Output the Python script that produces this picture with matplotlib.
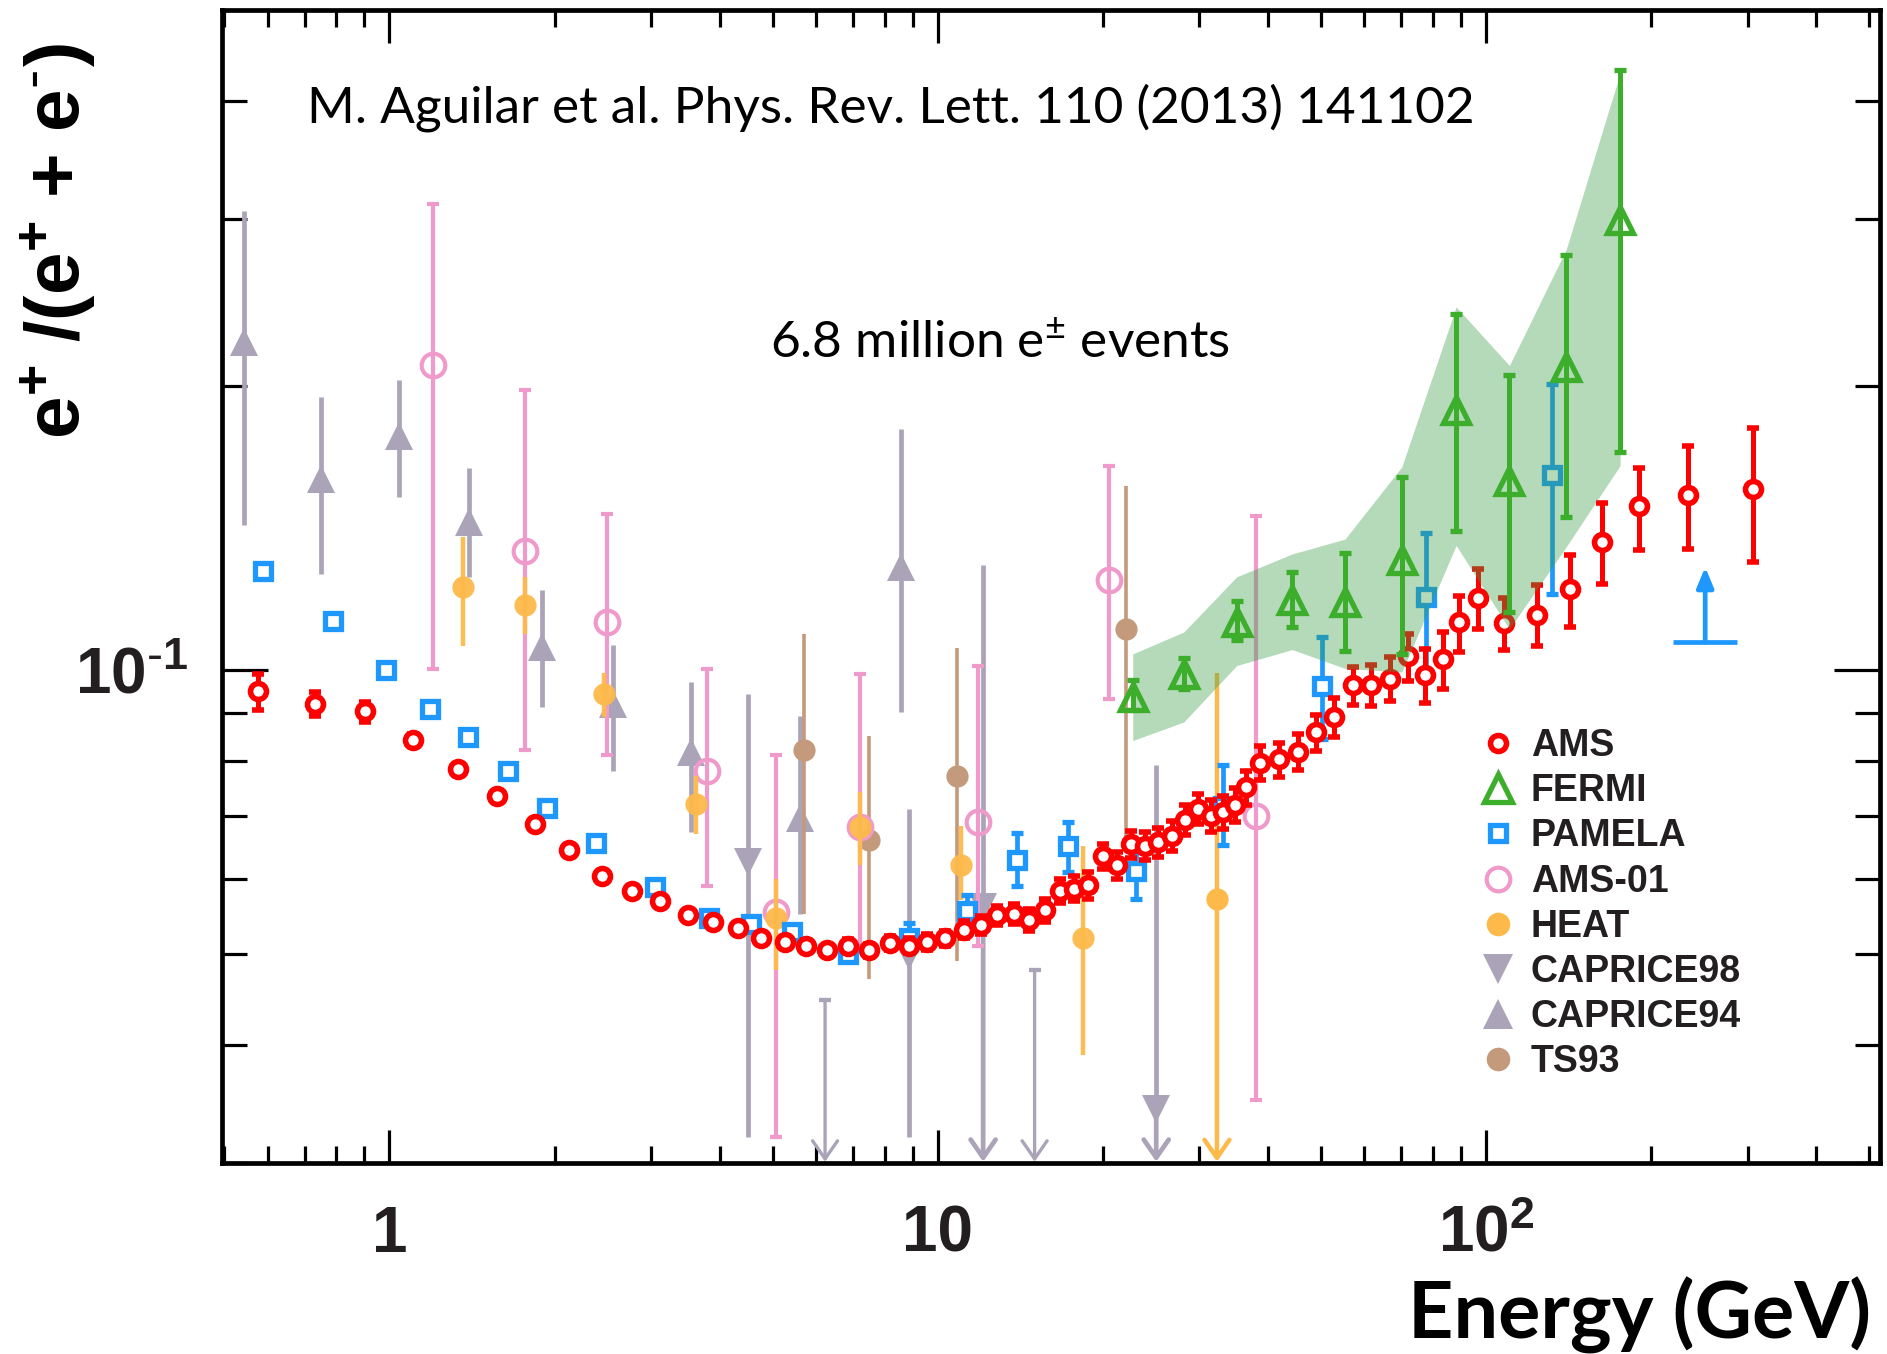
import numpy as np
import matplotlib
matplotlib.use('Agg')
import matplotlib.pyplot as plt
from matplotlib.lines import Line2D
from matplotlib.ticker import FixedLocator, FixedFormatter, NullFormatter

plt.rcParams['mathtext.default'] = 'regular'

# ---------------- data ----------------
ams_E = [0.576, 0.731, 0.904, 1.104, 1.332, 1.572, 1.84, 2.129, 2.441, 2.767, 3.114, 3.499, 3.893,
         4.32, 4.77, 5.27, 5.75, 6.28, 6.87, 7.48, 8.17, 8.85, 9.57, 10.31, 11.15, 11.99, 12.84,
         13.76, 14.68, 15.7, 16.69, 17.72, 18.8, 20.0, 21.2, 22.47, 23.85, 25.22, 26.7, 28.23,
         29.77, 31.45, 33.16, 34.8, 36.5, 38.74, 41.87, 45.4, 49.0, 52.8, 57.3, 61.7, 66.7, 72.1,
         77.3, 83.3, 89.4, 96.6, 107.8, 124.0, 142.3, 162.8, 190.4, 233.9, 306.6]
ams_v = [0.0948, 0.0920, 0.0903, 0.0843, 0.0785, 0.0735, 0.0686, 0.0644, 0.0605, 0.0583, 0.0568,
         0.0549, 0.0540, 0.0532, 0.0519, 0.0514, 0.0510, 0.0504, 0.0510, 0.0504, 0.0513, 0.0510,
         0.0515, 0.0519, 0.0530, 0.0536, 0.0549, 0.0551, 0.0543, 0.0556, 0.0583, 0.0586, 0.0591,
         0.0634, 0.0620, 0.0653, 0.0650, 0.0656, 0.0667, 0.0693, 0.0712, 0.0700, 0.0706, 0.0719,
         0.0750, 0.0796, 0.0803, 0.0818, 0.0858, 0.0890, 0.0962, 0.0963, 0.0978, 0.1033, 0.0987,
         0.1026, 0.1124, 0.1190, 0.1121, 0.1143, 0.1218, 0.1365, 0.1490, 0.1532, 0.1554]
ams_err_lo = [0.0041, 0.0026, 0.0022, 0.0012, 0.0010, 0.0009, 0.0008, 0.0008, 0.0007, 0.0007, 0.0007,
              0.0007, 0.0007, 0.0007, 0.0007, 0.0007, 0.0007, 0.0007, 0.0008, 0.0008, 0.0009, 0.0009,
              0.0010, 0.0010, 0.0011, 0.0012, 0.0013, 0.0014, 0.0015, 0.0016, 0.0017, 0.0018, 0.0019,
              0.0020, 0.0020, 0.0021, 0.0022, 0.0023, 0.0024, 0.0025, 0.0026, 0.0027, 0.0028, 0.0030,
              0.0031, 0.0033, 0.0034, 0.0036, 0.0038, 0.0042, 0.0045, 0.0048, 0.0052, 0.0060, 0.0065,
              0.0072, 0.0079, 0.0086, 0.0071, 0.0083, 0.0109, 0.0132, 0.0150, 0.0190, 0.0254]
ams_err_hi = [0.0042, 0.0026, 0.0022, 0.0012, 0.0010, 0.0009, 0.0008, 0.0008, 0.0007, 0.0007, 0.0007,
              0.0007, 0.0007, 0.0007, 0.0007, 0.0007, 0.0007, 0.0007, 0.0008, 0.0008, 0.0009, 0.0009,
              0.0010, 0.0010, 0.0011, 0.0012, 0.0013, 0.0014, 0.0015, 0.0016, 0.0017, 0.0018, 0.0019,
              0.0020, 0.0020, 0.0021, 0.0022, 0.0023, 0.0024, 0.0025, 0.0026, 0.0027, 0.0028, 0.0030,
              0.0031, 0.0033, 0.0034, 0.0036, 0.0038, 0.0042, 0.0045, 0.0048, 0.0052, 0.0058, 0.0065,
              0.0071, 0.0074, 0.0087, 0.0069, 0.0087, 0.0105, 0.0137, 0.0145, 0.0194, 0.0248]

pam_E = [0.589, 0.788, 0.987, 1.186, 1.388, 1.644, 1.938, 2.383, 3.056, 3.83, 4.57, 5.43, 6.87,
         8.87, 11.3, 13.96, 17.29, 23.0, 33.2, 50.3, 77.8, 132.0]
pam_v = [0.1273, 0.1127, 0.0999, 0.0908, 0.0848, 0.0780, 0.0713, 0.0655, 0.0588, 0.0546, 0.0537,
         0.0527, 0.0499, 0.0520, 0.0555, 0.0629, 0.0650, 0.0611, 0.0716, 0.0960, 0.1193, 0.1606]
pam_err_lo = [0.0008, 0.0008, 0.0008, 0.0008, 0.0008, 0.0008, 0.0008, 0.0008, 0.0008, 0.0008, 0.0008,
              0.0008, 0.0008, 0.0019, 0.0022, 0.0039, 0.0040, 0.0040, 0.0065, 0.0116, 0.0199, 0.0403]
pam_err_hi = [0.0008, 0.0008, 0.0008, 0.0008, 0.0008, 0.0008, 0.0008, 0.0008, 0.0008, 0.0008, 0.0008,
              0.0008, 0.0008, 0.0019, 0.0022, 0.0042, 0.0040, 0.0036, 0.0076, 0.0122, 0.0202, 0.0399]
# PAMELA lower limit (high energy)
pam_lim_E = [251.0]
pam_lim_v = [0.1069]
pam_lim_xlo = [219.0]
pam_lim_xhi = [287.0]
pam_lim_arrow_top = [0.1284]

fermi_E = [22.68, 28.1, 35.1, 44.3, 55.3, 70.2, 88.2, 110.3, 140.1, 175.6]
fermi_v = [0.0935, 0.0990, 0.1123, 0.1184, 0.1180, 0.1305, 0.1882, 0.1586, 0.2093, 0.2993]
fermi_hi = [0.0975, 0.1028, 0.1183, 0.1268, 0.1330, 0.1600, 0.2384, 0.2050, 0.2753, 0.4317]
fermi_lo = [0.0905, 0.0954, 0.1076, 0.1110, 0.1047, 0.1040, 0.1401, 0.1151, 0.1450, 0.1701]
band_lo = [0.0841, 0.0880, 0.1010, 0.1050, 0.1003, 0.0994, 0.1354, 0.1104, 0.1350, 0.1645]
band_hi = [0.1039, 0.1096, 0.1254, 0.1326, 0.1375, 0.1640, 0.2423, 0.2100, 0.2790, 0.4285]

ams01_E = [1.201, 1.764, 2.496, 3.79, 5.06, 7.20, 11.85, 20.57, 38.1]
ams01_v = [0.2104, 0.1334, 0.1124, 0.0781, 0.0553, 0.0681, 0.0690, 0.1243, 0.0700]
ams01_hi = [0.3117, 0.1977, 0.1463, 0.1002, 0.0812, 0.0990, 0.1010, 0.1645, 0.1455]
ams01_lo = [0.1002, 0.0821, 0.0812, 0.0590, 0.0320, 0.0510, 0.0510, 0.0931, 0.0350]

heat_E = [1.362, 1.764, 2.46, 3.63, 5.07, 7.20, 11.03, 18.43]
heat_v = [0.1223, 0.1171, 0.0942, 0.0720, 0.0546, 0.0681, 0.0620, 0.0520]
heat_hi = [0.1381, 0.1253, 0.0992, 0.0772, 0.0600, 0.0741, 0.0683, 0.0650]
heat_lo = [0.1060, 0.1090, 0.0890, 0.0669, 0.0480, 0.0620, 0.0570, 0.0390]
heat_lim_E = [32.3]
heat_lim_v = [0.0571]
heat_lim_hi = [0.0992]

c94_E = [0.5418, 0.749, 1.04, 1.396, 1.895, 2.553, 3.553, 5.61, 8.575]
c94_v = [0.2224, 0.1593, 0.1770, 0.1433, 0.1056, 0.0920, 0.0817, 0.0697, 0.1284]
c94_hi = [0.3060, 0.1944, 0.2025, 0.1634, 0.1213, 0.1062, 0.0971, 0.0894, 0.1797]
c94_lo = [0.1424, 0.1263, 0.1523, 0.1253, 0.0912, 0.0781, 0.0672, 0.0551, 0.0901]

c98_E = [4.51, 8.87]
c98_v = [0.0625, 0.0497]
c98_hi = [0.0942, 0.0712]
c98_lo = [0.0320, 0.0320]
c98_lim_E = [12.1, 25.03]
c98_lim_v = [0.0560, 0.0342]
c98_lim_hi = [0.1290, 0.0792]
c98_ul_E = [6.23, 15.02]
c98_ul_top = [0.0446, 0.0480]

ts93_E = [5.70, 7.48, 10.82, 22.07]
ts93_v = [0.0821, 0.0659, 0.0772, 0.1105]
ts93_hi = [0.1091, 0.0851, 0.1054, 0.1564]
ts93_lo = [0.0551, 0.0470, 0.0491, 0.0660]

legend_labels = ['AMS', 'FERMI', 'PAMELA', 'AMS-01', 'HEAT', 'CAPRICE98', 'CAPRICE94', 'TS93']
x_ticks = [1, 10, 100]
x_ticklabels = ['1', '10', r'$10^{2}$']
y_ticks = [0.1]
y_ticklabels = [r'$10^{\text{-}1}$']

# ---------------- style ----------------
RED = '#FF0000'
GREEN = '#3DAE2B'
BAND = '#3A9E48'
BLUE = '#1E98FF'
PINK = '#F09ACB'
ORANGE = '#FDBA4B'
GRAY = '#ABA4B8'
BROWN = '#C49A7C'
TXT = '#231F20'

XMIN, XMAX = 0.495, 523
YMIN, YMAX = 0.03, 0.5

fig = plt.figure(figsize=(18.87, 13.54), dpi=100)
ax = fig.add_axes([222 / 1887, 1 - 1163 / 1354, (1880 - 222) / 1887, (1163 - 10) / 1354])
ax.set_xscale('log')
ax.set_yscale('log')
ax.set_xlim(XMIN, XMAX)
ax.set_ylim(YMIN, YMAX)


def yerr_from(v, lo, hi):
    v = np.asarray(v)
    return [v - np.asarray(lo), np.asarray(hi) - v]


def down_arrows(E, top, color, lw, z):
    for e, t in zip(E, top):
        ax.annotate('', xy=(e, YMIN * 1.003), xytext=(e, t),
                    arrowprops=dict(arrowstyle='->,head_width=0.45,head_length=0.65',
                                    mutation_scale=20, color=color, lw=lw,
                                    shrinkA=0, shrinkB=0),
                    zorder=z)

# older experiments
ax.errorbar(c94_E, c94_v, yerr=yerr_from(c94_v, c94_lo, c94_hi), fmt='^', ms=20,
            mfc=GRAY, mec=GRAY, mew=0, ecolor=GRAY, elinewidth=3.4, capsize=4.5,
            capthick=3.2, zorder=2)
ax.errorbar(c98_E, c98_v, yerr=yerr_from(c98_v, c98_lo, c98_hi), fmt='v', ms=20,
            mfc=GRAY, mec=GRAY, mew=0, ecolor=GRAY, elinewidth=3.4, capsize=4.5,
            capthick=3.2, zorder=2)
ax.errorbar(c98_lim_E, c98_lim_v, yerr=[np.zeros(len(c98_lim_E)),
                                        np.asarray(c98_lim_hi) - np.asarray(c98_lim_v)],
            fmt='v', ms=20, mfc=GRAY, mec=GRAY, mew=0, ecolor=GRAY, elinewidth=3.4,
            capsize=4.5, capthick=3.2, zorder=2)
down_arrows(c98_lim_E, c98_lim_v, GRAY, 3.4, 2)
ax.errorbar(c98_ul_E, c98_ul_top, yerr=[np.zeros(2), np.zeros(2)], fmt='none',
            ecolor=GRAY, elinewidth=2.4, capsize=4.5, capthick=3.0, zorder=2)
down_arrows(c98_ul_E, c98_ul_top, GRAY, 2.4, 2)

ax.errorbar(ts93_E, ts93_v, yerr=yerr_from(ts93_v, ts93_lo, ts93_hi), fmt='o', ms=16,
            mfc=BROWN, mec=BROWN, mew=0, ecolor=BROWN, elinewidth=2.6, capsize=4.5,
            capthick=2.6, zorder=2.2)
ax.errorbar(ams01_E, ams01_v, yerr=yerr_from(ams01_v, ams01_lo, ams01_hi), fmt='o', ms=17,
            mfc='none', mec=PINK, mew=3.0, ecolor=PINK, elinewidth=3.0, capsize=4.5,
            capthick=3.0, zorder=2.4)
ax.errorbar(heat_E, heat_v, yerr=yerr_from(heat_v, heat_lo, heat_hi), fmt='o', ms=16,
            mfc=ORANGE, mec=ORANGE, mew=0, ecolor=ORANGE, elinewidth=3.2, capsize=4.5,
            capthick=3.2, zorder=2.6, alpha=0.95)
ax.errorbar(heat_lim_E, heat_lim_v, yerr=[[0], np.asarray(heat_lim_hi) - np.asarray(heat_lim_v)],
            fmt='o', ms=16, mfc=ORANGE, mec=ORANGE, mew=0, ecolor=ORANGE, elinewidth=3.2,
            capsize=4.5, capthick=3.2, zorder=2.6)
down_arrows(heat_lim_E, heat_lim_v, ORANGE, 3.2, 2.6)

# PAMELA
ax.errorbar(pam_E, pam_v, yerr=[pam_err_lo, pam_err_hi], fmt='s', ms=11.5, mfc='white',
            mec=BLUE, mew=3.8, ecolor=BLUE, elinewidth=3.4, capsize=4.5, capthick=3.4,
            zorder=3)
ax.errorbar(pam_lim_E, pam_lim_v,
            xerr=[np.asarray(pam_lim_E) - np.asarray(pam_lim_xlo),
                  np.asarray(pam_lim_xhi) - np.asarray(pam_lim_E)],
            fmt='none', ecolor=BLUE, elinewidth=3.4, capsize=0, zorder=3)
for e, v0, t in zip(pam_lim_E, pam_lim_v, pam_lim_arrow_top):
    ax.annotate('', xy=(e, t), xytext=(e, v0),
                arrowprops=dict(arrowstyle='-|>,head_width=0.25,head_length=0.6',
                                mutation_scale=20, color=BLUE, lw=3.4,
                                shrinkA=0, shrinkB=0), zorder=3)

# AMS
ax.errorbar(ams_E, ams_v, yerr=[ams_err_lo, ams_err_hi], fmt='o', ms=11.5, mfc='white',
            mec=RED, mew=4.0, ecolor=RED, elinewidth=3.6, capsize=4.3, capthick=3.6,
            zorder=4)

# Fermi band on top (transparent) then Fermi points
ax.fill_between(fermi_E, band_lo, band_hi, color=BAND, alpha=0.38, lw=0, zorder=5)
ax.errorbar(fermi_E, fermi_v, yerr=yerr_from(fermi_v, fermi_lo, fermi_hi), fmt='^', ms=19,
            mfc='none', mec=GREEN, mew=3.8, ecolor=GREEN, elinewidth=3.6, capsize=4.5,
            capthick=3.6, zorder=6)

# ---------------- axes styling ----------------
for s in ax.spines.values():
    s.set_linewidth(3.4)
    s.set_color('black')
ax.tick_params(which='both', direction='in', top=True, right=True, width=2.3, color='black')
ax.tick_params(axis='x', which='major', length=24, pad=64)
ax.tick_params(axis='x', which='minor', length=12)
ax.tick_params(axis='y', which='major', length=33, pad=24)
ax.tick_params(axis='y', which='minor', length=18)

ax.xaxis.set_major_locator(FixedLocator(x_ticks))
ax.xaxis.set_major_formatter(FixedFormatter(x_ticklabels))
xminor = [m * 10.0 ** k for k in (-1, 0, 1, 2) for m in range(2, 10)]
ax.xaxis.set_minor_locator(FixedLocator(xminor))
ax.xaxis.set_minor_formatter(NullFormatter())
ax.yaxis.set_major_locator(FixedLocator(y_ticks))
ax.yaxis.set_major_formatter(FixedFormatter(y_ticklabels))
yminor = [0.03, 0.04, 0.05, 0.06, 0.07, 0.08, 0.09, 0.2, 0.3, 0.4]
ax.yaxis.set_minor_locator(FixedLocator(yminor))
ax.yaxis.set_minor_formatter(NullFormatter())

for lab in ax.get_xticklabels():
    lab.set_fontfamily('Liberation Sans')
    lab.set_fontweight('bold')
    lab.set_fontsize(46)
    lab.set_color(TXT)
    lab.set_va('baseline')
for lab in ax.get_yticklabels():
    lab.set_fontfamily('Liberation Sans')
    lab.set_fontweight('bold')
    lab.set_fontsize(46)
    lab.set_color(TXT)

ax.set_ylabel(r'e$^{+}$ /(e$^{+}$ + e$^{\text{-}}$)', fontfamily='Liberation Sans',
              fontweight='bold', fontsize=55, color='black')
ax.yaxis.set_label_coords(-0.0748, 0.80)
ax.set_xlabel('Energy (GeV)', fontfamily='Lato', fontweight='bold', fontsize=57,
              color='black', ha='right', va='baseline')
ax.xaxis.set_label_coords(0.9946, -0.1526)

fig.text(307 / 1887, 1 - 123 / 1354, 'M. Aguilar et al. Phys. Rev. Lett. 110 (2013) 141102',
         fontfamily='Lato', fontsize=37, color='black', va='baseline', ha='left')
fig.text(770 / 1887, 1 - 358 / 1354, r'6.8 million e$^{\pm}$ events',
         fontfamily='Lato', fontsize=37, color='black', va='baseline', ha='left')

# legend
handles = [
    Line2D([], [], ls='none', marker='o', ms=11.5, mfc='white', mec=RED, mew=4.0),
    Line2D([], [], ls='none', marker='^', ms=20, mfc='none', mec=GREEN, mew=3.8),
    Line2D([], [], ls='none', marker='s', ms=11.5, mfc='white', mec=BLUE, mew=3.8),
    Line2D([], [], ls='none', marker='o', ms=17, mfc='none', mec=PINK, mew=3.0),
    Line2D([], [], ls='none', marker='o', ms=17, mfc=ORANGE, mec=ORANGE, mew=0),
    Line2D([], [], ls='none', marker='v', ms=21, mfc=GRAY, mec=GRAY, mew=0),
    Line2D([], [], ls='none', marker='^', ms=21, mfc=GRAY, mec=GRAY, mew=0),
    Line2D([], [], ls='none', marker='o', ms=17, mfc=BROWN, mec=BROWN, mew=0),
]
leg = ax.legend(handles, legend_labels, loc='upper left', bbox_to_anchor=(0.7588, 0.3772),
                frameon=False, borderpad=0, borderaxespad=0, handlelength=0.95,
                handletextpad=0.4, labelspacing=0.245,
                prop={'family': 'Liberation Sans', 'weight': 'bold', 'size': 27})
for t in leg.get_texts():
    t.set_color(TXT)

fig.savefig('out.png', dpi=100, facecolor='white')
